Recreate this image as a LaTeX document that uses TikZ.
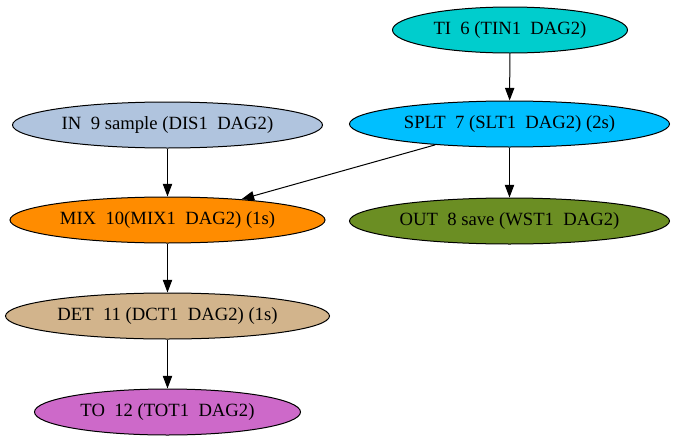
\documentclass[tikz,border=0pt]{standalone}
\usepackage{fontspec}
\setmainfont{Liberation Serif}
\usetikzlibrary{shapes.geometric,arrows.meta}
\definecolor{tiCol}{HTML}{00CDCD}
\definecolor{spltCol}{HTML}{00BFFF}
\definecolor{inCol}{HTML}{B0C4DE}
\definecolor{mixCol}{HTML}{FF8C00}
\definecolor{outCol}{HTML}{6B8E23}
\definecolor{detCol}{HTML}{D2B48C}
\definecolor{toCol}{HTML}{CD69C9}
\begin{document}
\begin{tikzpicture}[x=0.75pt, y=-0.75pt,
	op/.style={ellipse, draw=black, line width=0.75pt, inner sep=0pt, minimum height=34.5pt, font=\fontsize{14}{16}\selectfont},
	flow/.style={-{Triangle[length=9.5pt, width=7pt]}, line width=0.75pt}]
			%%%%% START %%%%%
			\useasboundingbox (0, 0) rectangle (683, 443);
			
			\node[op, fill=tiCol, minimum width=176.25pt] (ti) at (510, 30) {TI~~6 (TIN1~~DAG2)};
			\node[op, fill=spltCol, minimum width=240pt] (splt) at (509.5, 124) {SPLT~~7 (SLT1~~DAG2) (2s)};
			\node[op, fill=inCol, minimum width=232.5pt] (in) at (167.5, 125) {IN~~9 sample (DIS1~~DAG2)};
			
			\node[op, fill=mixCol, minimum width=236.25pt] (mix) at (167.5, 220) {MIX~~10(MIX1~~DAG2) (1s)};
			\node[op, fill=outCol, minimum width=240pt] (out) at (509.5, 221) {OUT~~8 save (WST1~~DAG2)};
			
			\node[op, fill=detCol, minimum width=243pt] (det) at (167.5, 316) {DET~~11 (DCT1~~DAG2) (1s)};
			\node[op, fill=toCol, minimum width=199.5pt] (to) at (167.5, 412) {TO~~12 (TOT1~~DAG2)};
			
			\draw[flow] (ti) -- (splt);
			\draw[flow] (splt) -- (out);
			\draw[flow] (splt) -- (mix);
			\draw[flow] (in) -- (mix);
			\draw[flow] (mix) -- (det);
			\draw[flow] (det) -- (to);
			
			%%%%% END %%%%%
		\end{tikzpicture}
\end{document}
